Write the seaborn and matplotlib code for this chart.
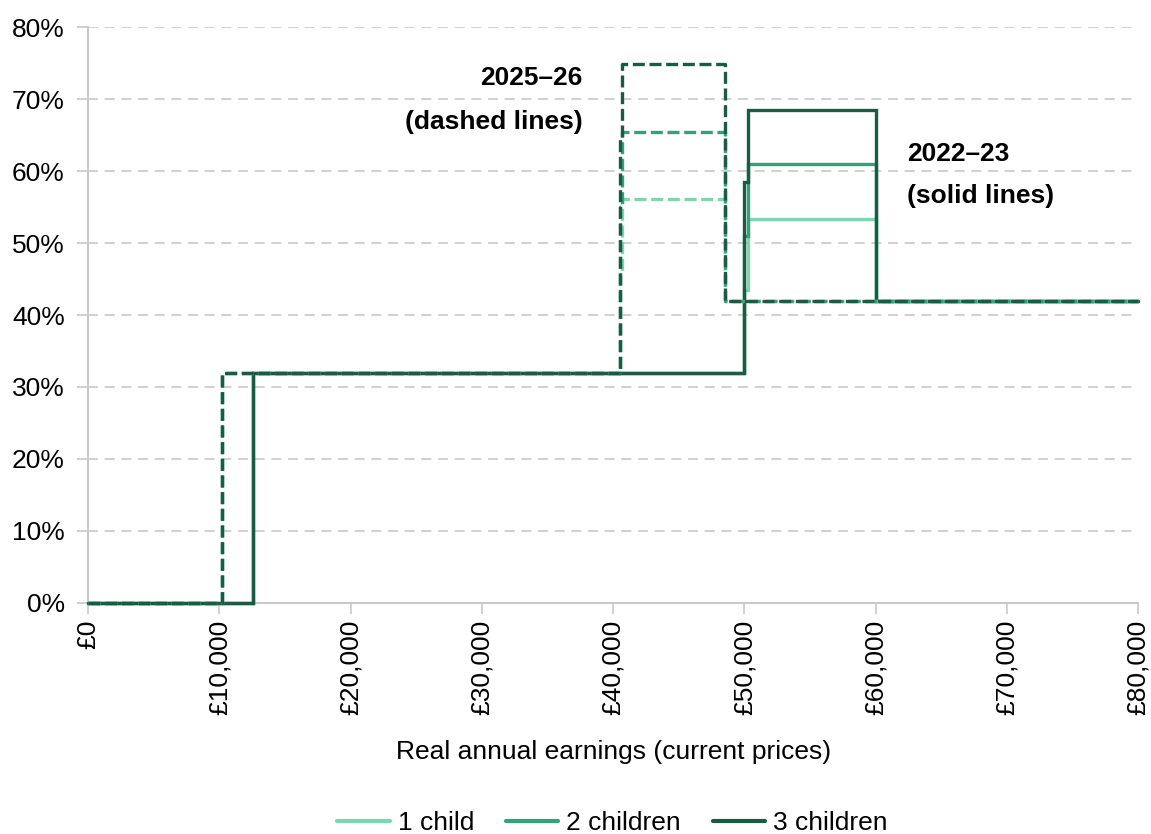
import pandas as pd
import matplotlib
matplotlib.use("Agg")
import matplotlib.pyplot as plt
import seaborn as sns
from matplotlib.lines import Line2D
from matplotlib.ticker import FuncFormatter

# step points (earnings in £, marginal rate in %)
earn_2223 = [0, 12570, 50000, 50270, 60000, 80000]
one_2223 = [0, 32, 43.5, 53.4, 42, 42]
two_2223 = [0, 32, 51, 61.0, 42, 42]
three_2223 = [0, 32, 58.5, 68.5, 42, 42]

earn_2526 = [0, 10200, 40500, 40700, 48500, 80000]
one_2526 = [0, 32, 46, 56.1, 42, 42]
two_2526 = [0, 32, 55, 65.4, 42, 42]
three_2526 = [0, 32, 64.7, 74.8, 42, 42]

children = ["1 child", "2 children", "3 children"]
colours = ["#7dd6b1", "#35a07a", "#1b5a43"]
x_ticks = [0, 10000, 20000, 30000, 40000, 50000, 60000, 70000, 80000]
y_ticks = [0, 10, 20, 30, 40, 50, 60, 70, 80]


def long_table(earn, series):
    rows = []
    for label, vals in zip(children, series):
        for e, v in zip(earn, vals):
            rows.append({"earnings": e, "rate": v, "children": label})
    return pd.DataFrame(rows)


df_2223 = long_table(earn_2223, [one_2223, two_2223, three_2223])
df_2526 = long_table(earn_2526, [one_2526, two_2526, three_2526])

sns.set_style("white")
plt.rcParams["font.family"] = ["Liberation Sans", "DejaVu Sans"]
plt.rcParams["font.size"] = 19
plt.rcParams["text.color"] = "black"
plt.rcParams["xtick.color"] = "black"
plt.rcParams["ytick.color"] = "black"
plt.rcParams["axes.labelcolor"] = "black"

palette = dict(zip(children, colours))
fs = 19

fig = plt.figure(figsize=(11.51, 8.34), dpi=100)
ax = fig.add_axes([0.0767, 0.277, 0.912, 0.6906])

sns.lineplot(data=df_2223, x="earnings", y="rate", hue="children", palette=palette,
             estimator=None, sort=False, drawstyle="steps-post",
             legend=False, ax=ax)
sns.lineplot(data=df_2526, x="earnings", y="rate", hue="children", palette=palette,
             estimator=None, sort=False, drawstyle="steps-post",
             linestyle=(0, (3.6, 1.4)), legend=False, ax=ax)
for ln in ax.lines:
    ln.set_linewidth(2.4)
    ln.set_clip_on(False)
    ln.set_zorder(3)
    ln.set_solid_joinstyle("miter")

ax.set_xlim(0, 80000)
ax.set_ylim(0, 80)
ax.set_xticks(x_ticks)
ax.set_yticks(y_ticks)
ax.xaxis.set_major_formatter(FuncFormatter(lambda v, p: "£{:,.0f}".format(v)))
ax.yaxis.set_major_formatter(FuncFormatter(lambda v, p: "{:.0f}%".format(v)))
plt.setp(ax.get_xticklabels(), rotation=90)
ax.tick_params(axis="both", which="major", length=8, width=1.2, color="#c8c8c8",
               labelsize=fs, labelcolor="black", bottom=True, left=True)
ax.tick_params(axis="y", pad=9)
ax.tick_params(axis="x", pad=4)

ax.yaxis.grid(True, color="#c8c8c8", linestyle=(0, (6, 4)), linewidth=1.2)
ax.set_axisbelow(True)
for side in ["top", "right"]:
    ax.spines[side].set_visible(False)
for side in ["left", "bottom"]:
    ax.spines[side].set_color("#c8c8c8")
    ax.spines[side].set_linewidth(1.4)

ax.set_xlabel("Real annual earnings (current prices)", fontsize=fs, labelpad=18)
ax.set_ylabel("")

ax.text(37700, 72.9, "2025–26", ha="right", va="center", fontweight="bold", fontsize=fs)
ax.text(37700, 66.8, "(dashed lines)", ha="right", va="center", fontweight="bold", fontsize=fs)
ax.text(62400, 62.4, "2022–23", ha="left", va="center", fontweight="bold", fontsize=fs)
ax.text(62400, 56.5, "(solid lines)", ha="left", va="center", fontweight="bold", fontsize=fs)

handles = [Line2D([0], [0], color=c, linewidth=3) for c in colours]
fig.legend(handles, children, loc="lower center", bbox_to_anchor=(0.532, -0.03),
           ncol=3, frameon=False, fontsize=fs, handlelength=2.0,
           handletextpad=0.3, columnspacing=1.2)

fig.savefig("out.png", dpi=100)
